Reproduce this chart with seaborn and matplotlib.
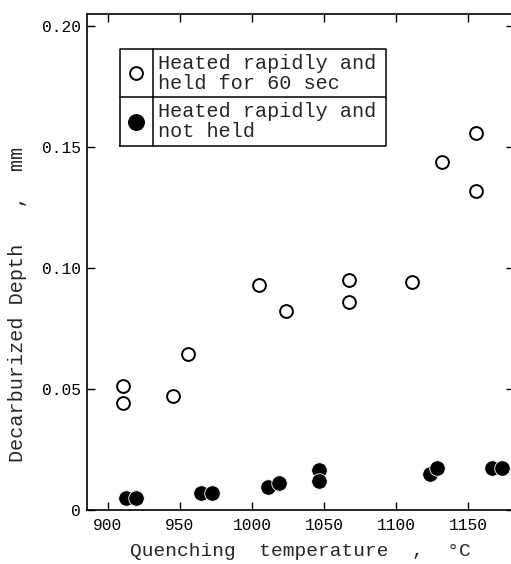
import matplotlib
matplotlib.use("Agg")
import matplotlib.pyplot as plt
import seaborn as sns
import pandas as pd

# values
temp_held = [910.4, 910.4, 945.1, 955.8, 1005.1, 1023.6, 1067.6, 1067.6, 1110.9, 1131.7, 1155.6, 1155.1]
depth_held = [0.0512, 0.0442, 0.0472, 0.0643, 0.0932, 0.0824, 0.0952, 0.0858, 0.0941, 0.1440, 0.1560, 0.1318]

temp_not_held = [912.5, 919.4, 964.4, 972.4, 1010.9, 1018.8, 1046.8, 1046.8, 1123.6, 1128.2, 1166.4, 1173.4]
depth_not_held = [0.0051, 0.0051, 0.0069, 0.0069, 0.0096, 0.0110, 0.0165, 0.0121, 0.0149, 0.0175, 0.0175, 0.0175]

x_ticks = [900, 950, 1000, 1050, 1100, 1150]
y_ticks = [0, 0.05, 0.10, 0.15, 0.20]
y_tick_labels = ["0", "0.05", "0.10", "0.15", "0.20"]

legend_labels = ["Heated rapidly and\nheld for 60 sec", "Heated rapidly and\nnot held"]

sns.set_style("ticks")
plt.rcParams["font.family"] = ["Liberation Mono", "DejaVu Sans"]

df_held = pd.DataFrame({"temp": temp_held, "depth": depth_held})
df_not = pd.DataFrame({"temp": temp_not_held, "depth": depth_not_held})

fig = plt.figure(figsize=(5.11, 5.64), dpi=100)
ax = fig.add_axes([0.1693, 0.0957, 0.8366, 0.8794])

sns.scatterplot(data=df_held, x="temp", y="depth", ax=ax, s=85,
                facecolor="white", edgecolor="black", linewidth=1.4, zorder=3)
sns.scatterplot(data=df_not, x="temp", y="depth", ax=ax, s=125,
                color="black", edgecolor="white", linewidth=0.6, zorder=3)

ax.set_xlim(885.3, 1181.7)
ax.set_ylim(0, 0.205)
ax.set_xticks(x_ticks)
ax.set_yticks(y_ticks)
ax.set_yticklabels(y_tick_labels)
ax.tick_params(direction="in", top=True, right=True, length=6, width=1,
               labelsize=11.7, pad=4, colors="black")
ax.tick_params(axis="x", pad=6)
for sp in ax.spines.values():
    sp.set_linewidth(1.2)
    sp.set_color("black")

ax.set_xlabel("Quenching  temperature  ,  \u00b0C", fontsize=14, labelpad=7)
ax.set_ylabel("Decarburized Depth   ,  mm", fontsize=14.5)
ax.yaxis.set_label_coords(-0.139, 0.415)

# table-style legend box
x0, x1, xd = 0.0776, 0.701, 0.155
y0, y1, ym = 0.734, 0.929, 0.832
lw = 1.1
ax.plot([x0, x1, x1, x0, x0], [y0, y0, y1, y1, y0], color="black", lw=lw,
        transform=ax.transAxes, clip_on=False, zorder=4)
ax.plot([x0, x1], [ym, ym], color="black", lw=lw, transform=ax.transAxes, zorder=4)
ax.plot([xd, xd], [y0, y1], color="black", lw=lw, transform=ax.transAxes, zorder=4)

row1 = (y1 + ym) / 2
row2 = (ym + y0) / 2
mx = (x0 + xd) / 2
ax.scatter([mx], [row1], s=85, facecolor="white", edgecolor="black", linewidth=1.4,
           transform=ax.transAxes, zorder=5)
ax.scatter([mx], [row2], s=125, color="black", transform=ax.transAxes, zorder=5)
ax.text(0.167, row1, legend_labels[0], transform=ax.transAxes, fontsize=14.5,
        va="center", ha="left", linespacing=1.05)
ax.text(0.167, row2, legend_labels[1], transform=ax.transAxes, fontsize=14.5,
        va="center", ha="left", linespacing=1.05)

fig.savefig("out.png", dpi=100)
